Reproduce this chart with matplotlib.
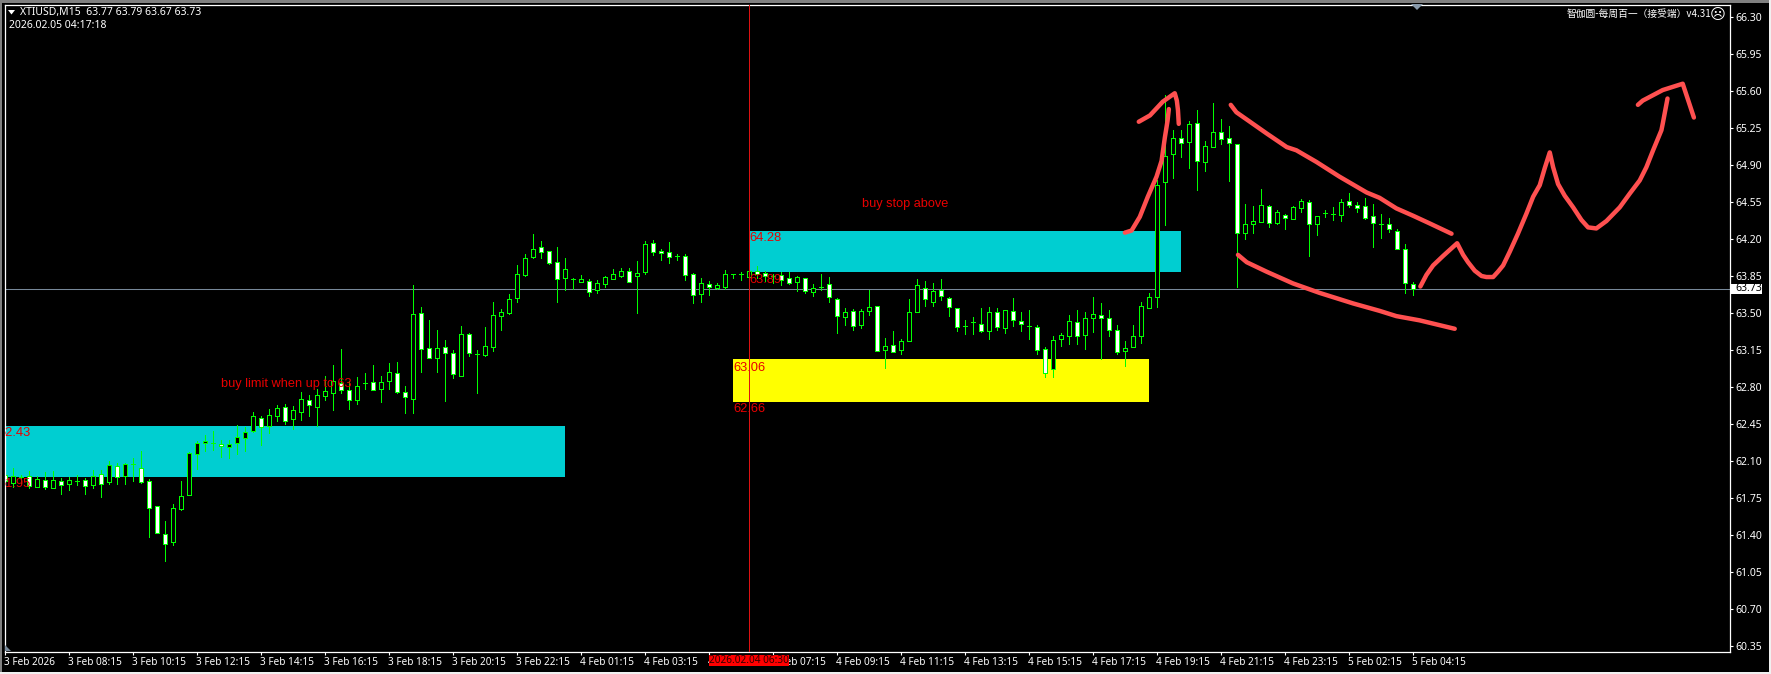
import matplotlib
matplotlib.use("Agg")
import matplotlib.pyplot as plt
from matplotlib.patches import Rectangle, Polygon
from matplotlib.transforms import ScaledTranslation

# bars are 15 min candles, index 0 is 3 Feb 06:15
opens = [61.97,61.89,61.95,61.96,61.85,61.92,61.84,61.91,61.88,61.91,61.92,61.87,61.98,61.90,62.05,61.96,62.07,62.03,61.91,61.67,
         61.41,61.33,61.64,61.78,62.16,62.27,62.27,62.26,62.23,62.27,62.32,62.38,62.51,62.43,62.52,62.61,62.50,62.56,62.68,62.61,
         62.71,62.74,62.84,62.77,62.68,62.84,62.85,62.78,62.86,62.93,62.75,62.69,63.50,63.17,63.07,63.18,63.12,62.90,63.30,63.11,
         63.10,63.18,63.47,63.50,63.64,63.86,64.03,64.12,64.09,63.98,63.83,63.82,63.79,63.80,63.72,63.77,63.82,63.85,63.90,63.85,
         63.89,64.16,64.09,64.08,64.04,64.04,63.87,63.68,63.77,63.74,63.75,63.87,63.87,63.84,63.90,63.88,63.85,63.86,63.83,63.79,
         63.83,63.70,63.75,63.77,63.63,63.46,63.52,63.39,63.52,63.57,63.15,63.20,63.15,63.23,63.51,63.74,63.60,63.72,63.64,63.55,
         63.38,63.41,63.40,63.33,63.51,63.36,63.52,63.42,63.38,63.37,63.16,62.97,63.25,63.28,63.41,63.29,63.45,63.48,63.45,63.34,
         63.14,63.18,63.28,63.55,63.65,64.74,65.00,65.16,65.12,65.30,64.93,65.07,65.21,65.16,65.10,64.26,64.34,64.36,64.51,64.35,
         64.43,64.39,64.49,64.55,64.34,64.45,64.44,64.43,64.56,64.52,64.51,64.42,64.34,64.34,64.28,64.11,63.77]
highs = [61.99,62.03,61.97,62.00,61.96,61.99,62.00,61.94,61.95,61.97,61.94,62.01,62.01,62.10,62.08,62.08,62.13,62.19,61.93,61.67,
         61.53,61.69,61.91,62.18,62.29,62.34,62.38,62.30,62.30,62.44,62.42,62.56,62.52,62.59,62.63,62.64,62.62,62.75,62.72,62.78,
         62.90,63.01,63.16,62.86,62.89,62.93,63.01,62.90,63.03,63.04,62.81,63.76,63.56,63.43,63.34,63.24,63.15,63.38,63.31,63.15,
         63.37,63.60,63.54,63.68,63.95,64.06,64.25,64.18,64.09,64.12,64.02,63.83,63.86,63.82,63.81,63.85,63.92,63.93,63.93,63.99,
         64.18,64.19,64.11,64.17,64.06,64.06,63.88,63.83,63.80,63.78,63.91,63.87,63.89,63.91,63.94,63.90,63.87,63.89,63.89,63.85,
         63.83,63.77,63.87,63.84,63.64,63.55,63.54,63.54,63.72,63.57,63.26,63.33,63.25,63.63,63.82,63.80,63.78,63.82,63.65,63.55,
         63.43,63.46,63.55,63.56,63.55,63.53,63.64,63.51,63.53,63.39,63.18,63.28,63.31,63.48,63.53,63.51,63.65,63.59,63.53,63.39,
         63.23,63.39,63.60,63.69,64.76,65.56,65.23,65.23,65.32,65.42,65.13,65.49,65.34,65.27,65.10,64.53,64.51,64.67,64.52,64.47,
         64.44,64.51,64.58,64.57,64.42,64.47,64.50,64.58,64.64,64.55,64.59,64.53,64.44,64.40,64.29,64.15,63.79]
lows = [61.89,61.85,61.89,61.84,61.85,61.83,61.84,61.79,61.82,61.87,61.79,61.84,61.76,61.88,61.88,61.88,61.91,61.89,61.38,61.42,
        61.15,61.30,61.63,61.78,62.02,62.19,62.20,62.14,62.13,62.16,62.19,62.37,62.25,62.36,62.48,62.45,62.40,62.49,62.52,62.43,
        62.68,62.58,62.74,62.59,62.64,62.78,62.77,62.66,62.78,62.74,62.55,62.55,62.94,63.07,62.94,62.67,62.88,62.90,63.09,62.74,
        63.09,63.14,63.34,63.49,63.60,63.85,64.02,64.02,63.96,63.60,63.72,63.73,63.79,63.66,63.69,63.75,63.82,63.84,63.79,63.50,
        63.87,64.05,64.00,63.97,64.00,63.81,63.59,63.60,63.67,63.73,63.73,63.83,63.81,63.83,63.83,63.80,63.78,63.76,63.77,63.71,
        63.69,63.66,63.72,63.60,63.31,63.39,63.34,63.36,63.48,63.14,62.98,63.13,63.11,63.23,63.51,63.57,63.57,63.62,63.47,63.33,
        63.30,63.30,63.32,63.25,63.34,63.31,63.38,63.33,63.25,63.11,62.89,62.89,63.19,63.21,63.21,63.16,63.32,63.06,63.28,63.11,
        63.00,63.18,63.22,63.55,63.56,64.33,64.78,64.98,64.87,64.66,64.84,65.07,65.10,64.75,63.75,64.20,64.26,64.36,64.31,64.34,
        64.29,64.39,64.46,64.04,64.24,64.41,64.38,64.37,64.50,64.46,64.39,64.12,64.21,64.27,64.11,63.69,63.67]
closes = [61.91,61.96,61.95,61.86,61.93,61.85,61.92,61.87,61.92,61.91,61.86,61.96,61.88,62.06,61.95,62.07,62.07,61.90,61.65,61.42,
          61.31,61.65,61.77,62.17,62.27,62.29,62.27,62.24,62.26,62.33,62.37,62.52,62.42,62.53,62.60,62.48,62.58,62.69,62.63,62.72,
          62.76,62.86,62.77,62.68,62.81,62.84,62.77,62.85,62.94,62.75,62.70,63.49,63.16,63.07,63.17,63.12,62.92,63.30,63.12,63.11,
          63.19,63.48,63.51,63.63,63.87,64.02,64.11,64.08,63.97,63.82,63.92,63.82,63.82,63.70,63.78,63.84,63.87,63.90,63.79,63.88,
          64.15,64.08,64.07,64.03,64.04,63.86,63.67,63.78,63.75,63.76,63.87,63.87,63.87,63.90,63.87,63.85,63.85,63.81,63.78,63.84,
          63.71,63.74,63.75,63.65,63.47,63.51,63.38,63.52,63.56,63.14,63.19,63.13,63.23,63.51,63.76,63.63,63.71,63.66,63.56,63.37,
          63.38,63.41,63.33,63.51,63.37,63.53,63.43,63.40,63.38,63.15,62.93,63.24,63.29,63.42,63.28,63.45,63.49,63.45,63.34,63.13,
          63.17,63.28,63.57,63.65,64.71,64.99,65.16,65.11,65.29,64.94,65.08,65.21,65.15,65.11,64.26,64.34,64.37,64.52,64.35,64.46,
          64.40,64.50,64.56,64.34,64.42,64.45,64.44,64.55,64.52,64.49,64.40,64.35,64.34,64.29,64.11,63.78,63.73]

y_ticks = [66.30,65.95,65.60,65.25,64.90,64.55,64.20,63.85,63.50,63.15,62.80,62.45,62.10,61.75,61.40,61.05,60.70,60.35]
x_labels = ["3 Feb 2026","3 Feb 08:15","3 Feb 10:15","3 Feb 12:15","3 Feb 14:15","3 Feb 16:15","3 Feb 18:15","3 Feb 20:15",
            "3 Feb 22:15","4 Feb 01:15","4 Feb 03:15","4 Feb 05:15","4 Feb 07:15","4 Feb 09:15","4 Feb 11:15","4 Feb 13:15",
            "4 Feb 15:15","4 Feb 17:15","4 Feb 19:15","4 Feb 21:15","4 Feb 23:15","5 Feb 02:15","5 Feb 04:15"]
x_ticks = [i * 8 for i in range(len(x_labels))]

# zones: bar from, bar to, price high, price low
zone_a = (-2, 70, 62.43, 61.95)
zone_b = (93, 147, 64.28, 63.89)
zone_c = (91, 143, 63.06, 62.66)

last_price = 63.73
cross_bar = 93

# hand drawn strokes, (bar, price)
shaft = [(139.96,64.26),(140.8,64.28),(141.83,64.41),(142.83,64.60),(143.92,64.79),(144.55,64.94),(144.96,65.16),(145.3,65.32),(145.46,65.43)]
head = [(141.7,65.31),(143.1,65.37),(144.7,65.50),(146.2,65.58),(146.46,65.51),(146.6,65.42),(146.7,65.29)]
upper = [(153.2,65.47),(153.9,65.40),(155.6,65.31),(157.67,65.20),(160.2,65.07),(161.4,65.04),(163.9,64.93),(166.8,64.79),
         (170.2,64.64),(171.8,64.59),(173.9,64.49),(176,64.42),(178,64.35),(180.8,64.25)]
lower = [(154.1,64.05),(155.2,63.98),(157.7,63.89),(160.96,63.78),(164.3,63.69),(168.5,63.59),(171.8,63.52),(173.9,63.47),(176.8,63.43),(181.2,63.35)]
path = [(176.9,63.75),(177.66,63.86),(178.5,63.95),(179.75,64.04),(181.5,64.16),(182.25,64.05),(182.87,63.98),(183.7,63.90),(184.55,63.85),
        (185.16,63.84),(186,63.84),(186.6,63.89),(187.25,63.95),(188.08,64.08),(189.1,64.25),(190.16,64.44),(191,64.60),(191.83,64.71),
        (192.45,64.87),(193.08,65.02),(193.5,64.88),(194.12,64.72),(194.95,64.61),(196,64.50),(197.04,64.38),(197.87,64.31),(198.9,64.30),
        (200.16,64.37),(201.83,64.50),(203.08,64.63),(204.33,64.755),(205.16,64.88),(206,65.04),(207.04,65.23),(207.2,65.29),(207.8,65.53)]
path_head = [(204.1,65.47),(204.7,65.51),(207.2,65.61),(209.7,65.67),(211.1,65.35)]

W, H = 1771, 674
GREEN = "#00ff00"
RED = "#e80000"
UI_FONT = ["Noto Sans", "DejaVu Sans"]

def fx(x):
    return x / W

def fy(y):
    return 1 - y / H

fig = plt.figure(figsize=(W / 100, H / 100), dpi=100, facecolor="black")
ax = fig.add_axes([fx(4.5), fy(651.5), fx(1729.5 - 4.5), (651.5 - 4.5) / H], facecolor="black")
ax.set_xlim(-0.1, 215.55)
ax.set_ylim(60.295, 66.42)

for z in (zone_a, zone_b, zone_c):
    col = "#ffff00" if z is zone_c else "#00ced1"
    ax.add_patch(Rectangle((z[0], z[3]), z[1] - z[0], z[2] - z[3], facecolor=col, edgecolor="none", zorder=1))

ax.axhline(last_price, color="#778899", lw=0.75, zorder=1.5)

for i in range(len(opens)):
    ax.vlines(i, lows[i], highs[i], color=GREEN, lw=0.72, zorder=2, antialiased=False)
    body = "white" if closes[i] < opens[i] else "black"
    bottom = min(opens[i], closes[i])
    ax.add_patch(Rectangle((i - 0.25, bottom), 0.5, abs(closes[i] - opens[i]), facecolor=body, edgecolor=GREEN,
                           lw=0.72, zorder=2.1, antialiased=False))

ax.text(-0.9, 62.36, "62.43", color=RED, fontsize=9.3, family="Liberation Sans", va="center", zorder=3, clip_on=True)
ax.text(-0.9, 61.88, "61.95", color=RED, fontsize=9.3, family="Liberation Sans", va="center", zorder=3, clip_on=True)
ax.text(93, 64.206, "64.28", color=RED, fontsize=9.3, family="Liberation Sans", va="center", zorder=3)
ax.text(93, 63.816, "63.89", color=RED, fontsize=9.3, family="Liberation Sans", va="center", zorder=3)
ax.text(91, 62.983, "63.06", color=RED, fontsize=9.3, family="Liberation Sans", va="center", zorder=3)
ax.text(91, 62.586, "62.66", color=RED, fontsize=9.3, family="Liberation Sans", va="center", zorder=3)
ax.text(26.96, 62.83, "buy limit when up to 63", color=RED, fontsize=9.2, family="Liberation Sans", va="center", zorder=3)
ax.text(107.1, 64.53, "buy stop above", color=RED, fontsize=9.2, family="Liberation Sans", va="center", zorder=3)

ax.axvline(cross_bar, color="#dd1111", lw=0.72, zorder=3.5)

for stroke in (shaft, head, upper, lower, path, path_head):
    ax.plot([p[0] for p in stroke], [p[1] for p in stroke], color="#ff5050", lw=3.2,
            solid_capstyle="round", solid_joinstyle="round", zorder=4)

for s in ax.spines.values():
    s.set_color("white")
    s.set_linewidth(0.9)
ax.yaxis.tick_right()
ax.set_yticks(y_ticks)
ax.set_yticklabels([f"{v:.2f}" for v in y_ticks], fontfamily=UI_FONT, fontsize=7.5, color="white")
ax.set_xticks(x_ticks)
ax.set_xticklabels(x_labels, fontfamily=UI_FONT, fontsize=7.2, color="white", ha="left")
ax.tick_params(axis="both", color="white", length=2.2, width=0.8, pad=2)
shift = ScaledTranslation(-1.5 / 100, 0, fig.dpi_scale_trans)
for t in ax.get_xticklabels():
    t.set_transform(t.get_transform() + shift)

# header texts
fig.text(fx(20), fy(12.5), "XTIUSD,M15  63.77 63.79 63.67 63.73", color="white", fontsize=7.5, family=UI_FONT, va="center")
fig.text(fx(9), fy(26), "2026.02.05 04:17:18", color="white", fontsize=7.5, family=UI_FONT, va="center")
fig.text(fx(1711), fy(14), "智伽圆-每周百一（接受端）v4.31", color="white", fontsize=7, va="center", ha="right",
         family=["Noto Sans CJK SC", "DejaVu Sans"])
fig.text(fx(1718), fy(14), "\u2639", color="white", fontsize=11, va="center", ha="center", family="DejaVu Sans")
fig.patches.append(Polygon([(fx(8), fy(10)), (fx(15), fy(10)), (fx(11.5), fy(14.5))], closed=True, transform=fig.transFigure,
                           facecolor="white", edgecolor="none", zorder=5))

# grey markers at the chart corners
fig.patches.append(Polygon([(fx(1411), fy(4)), (fx(1423), fy(4)), (fx(1417), fy(10))], closed=True, transform=fig.transFigure,
                           facecolor="#8899aa", edgecolor="none", zorder=5))
fig.patches.append(Polygon([(fx(5), fy(645)), (fx(5), fy(651)), (fx(11), fy(651))], closed=True, transform=fig.transFigure,
                           facecolor="#778899", edgecolor="none", zorder=5))

# price tag and crosshair time tag
fig.patches.append(Rectangle((fx(1731), fy(293.5)), (1762 - 1731) / W, 9.5 / H, transform=fig.transFigure, facecolor="white", edgecolor="none", zorder=5))
fig.text(fx(1735), fy(288.7), f"{last_price:.2f}", color="black", fontsize=7.5, family=UI_FONT, va="center", zorder=6)
fig.patches.append(Rectangle((fx(709), fy(666)), 80 / W, 11 / H, transform=fig.transFigure, facecolor="#ff0000", edgecolor="none", zorder=5))
fig.text(fx(749), fy(660.5), "2026.02.04 06:30", color="#300000", fontsize=7.2, family=UI_FONT, va="center", ha="center", zorder=6)

# window frame
fig.patches.append(Rectangle((0, fy(2.5)), 1, 2.5 / H, transform=fig.transFigure, facecolor="#808080", edgecolor="none", zorder=7))
fig.patches.append(Rectangle((0, 0), 2 / W, 1, transform=fig.transFigure, facecolor="#808080", edgecolor="none", zorder=7))
fig.patches.append(Rectangle((fx(1769), 0), 2 / W, 1, transform=fig.transFigure, facecolor="#f0f0f0", edgecolor="none", zorder=7))
fig.patches.append(Rectangle((0, 0), 1, 2 / H, transform=fig.transFigure, facecolor="#f0f0f0", edgecolor="none", zorder=7))

fig.savefig("out.png", dpi=100, facecolor="black")
